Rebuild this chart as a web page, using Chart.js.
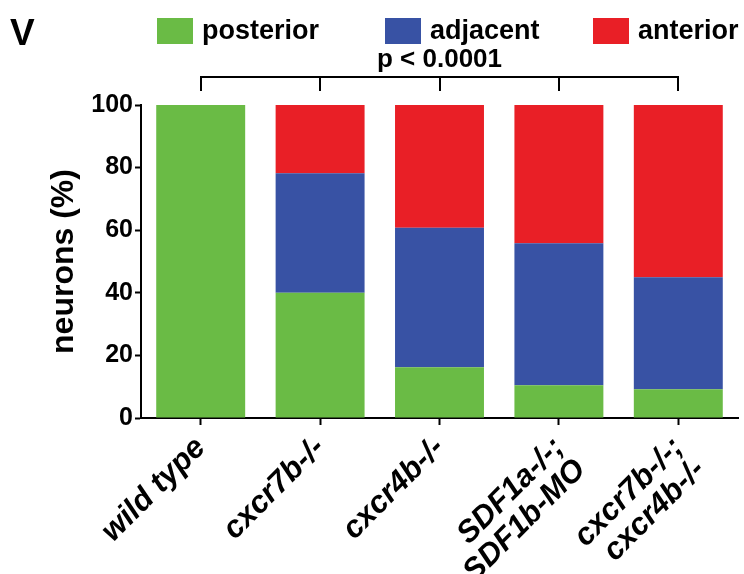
<!DOCTYPE html>
<html>
<head>
<meta charset="utf-8">
<script src="https://cdn.jsdelivr.net/npm/chart.js@4/dist/chart.umd.min.js"></script>
<style>
    html, body { margin: 0; padding: 0; background: #fff; }
    #wrap { width: 744px; height: 574px; }
</style>
</head>
<body>
<div id="wrap"><canvas id="chart" width="744" height="574"></canvas></div>
<script>
// categories, two-line labels as arrays
const categories = [
    'wild type',
    'cxcr7b-/-',
    'cxcr4b-/-',
    ['SDF1a-/-;', 'SDF1b-MO'],
    ['cxcr7b-/-;', 'cxcr4b-/-']
];

// percentage of neurons per position
const posterior = [100, 40, 16.2, 10.5, 9.2];
const adjacent = [0, 38.2, 44.6, 45.3, 35.8];
const anterior = [0, 21.8, 39.2, 44.2, 55];

const yTicks = [0, 20, 40, 60, 80, 100];
const pText = 'p < 0.0001';
const panelLetter = 'V';

const FONT = '"Liberation Sans", Arial, Helvetica, sans-serif';
Chart.defaults.font.family = FONT;
Chart.defaults.color = '#000';

// legend, panel letter, p value and bracket
const annotations = {
    id: 'annotations',
    afterDraw(chart) {
        const ctx = chart.ctx;
        const x = chart.scales.x;
        ctx.save();
        ctx.fillStyle = '#000';
        ctx.textBaseline = 'alphabetic';

        ctx.font = 'bold 37px ' + FONT;
        ctx.textAlign = 'left';
        ctx.fillText(panelLetter, 10, 45);

        // legend
        const legendX = [157, 385, 593];
        ctx.font = 'bold 27px ' + FONT;
        chart.data.datasets.forEach(function(ds, i) {
            ctx.fillStyle = ds.backgroundColor;
            ctx.fillRect(legendX[i], 18, 36, 26);
            ctx.fillStyle = '#000';
            ctx.fillText(ds.label, legendX[i] + 45, 39);
        });

        // bracket across all groups
        const first = x.getPixelForValue(0);
        const last = x.getPixelForValue(categories.length - 1);
        ctx.strokeStyle = '#000';
        ctx.lineWidth = 2;
        ctx.beginPath();
        ctx.moveTo(first, 77);
        ctx.lineTo(last, 77);
        for (let i = 0; i < categories.length; i++) {
            const px = Math.round(x.getPixelForValue(i));
            ctx.moveTo(px, 76);
            ctx.lineTo(px, 91);
        }
        ctx.stroke();

        ctx.font = 'bold 26px ' + FONT;
        ctx.textAlign = 'center';
        ctx.fillText(pText, (chart.chartArea.left + chart.chartArea.right) / 2, 67);
        ctx.restore();
    }
};

const LEFT_PAD = 46;

new Chart(document.getElementById('chart'), {
    type: 'bar',
    data: {
        labels: categories,
        datasets: [
            { label: 'posterior', data: posterior, backgroundColor: '#6abb45' },
            { label: 'adjacent', data: adjacent, backgroundColor: '#3852a4' },
            { label: 'anterior', data: anterior, backgroundColor: '#e91f26' }
        ]
    },
    options: {
        responsive: false,
        animation: false,
        layout: { padding: { top: 105, right: 6, left: LEFT_PAD, bottom: 0 } },
        datasets: {
            bar: { barPercentage: 0.745, categoryPercentage: 1.0, borderWidth: 0 }
        },
        scales: {
            x: {
                stacked: true,
                afterFit: function(scale) { scale.height = 574 - 418; },
                border: { display: true, color: '#000', width: 2 },
                grid: {
                    offset: false,
                    drawOnChartArea: false,
                    tickLength: 7,
                    tickColor: '#000',
                    tickWidth: 2
                },
                ticks: {
                    minRotation: 45,
                    maxRotation: 45,
                    autoSkip: false,
                    padding: 7,
                    font: { size: 31, weight: 'bold', style: 'italic', lineHeight: 1.0 }
                }
            },
            y: {
                stacked: true,
                min: 0,
                max: 100,
                afterFit: function(scale) { scale.width = 141 - LEFT_PAD; },
                afterBuildTicks: function(scale) {
                    scale.ticks = yTicks.map(v => ({ value: v }));
                },
                border: { display: true, color: '#000', width: 2 },
                grid: {
                    drawOnChartArea: false,
                    tickLength: 6,
                    tickColor: '#000',
                    tickWidth: 2
                },
                ticks: {
                    padding: 2,
                    font: { size: 25, weight: 'bold' }
                },
                title: {
                    display: true,
                    text: 'neurons (%)',
                    padding: { top: 2, bottom: 0 },
                    font: { size: 32, weight: 'bold', lineHeight: 1.0 }
                }
            }
        },
        plugins: {
            legend: { display: false },
            tooltip: { enabled: false }
        }
    },
    plugins: [annotations]
});
</script>
</body>
</html>
